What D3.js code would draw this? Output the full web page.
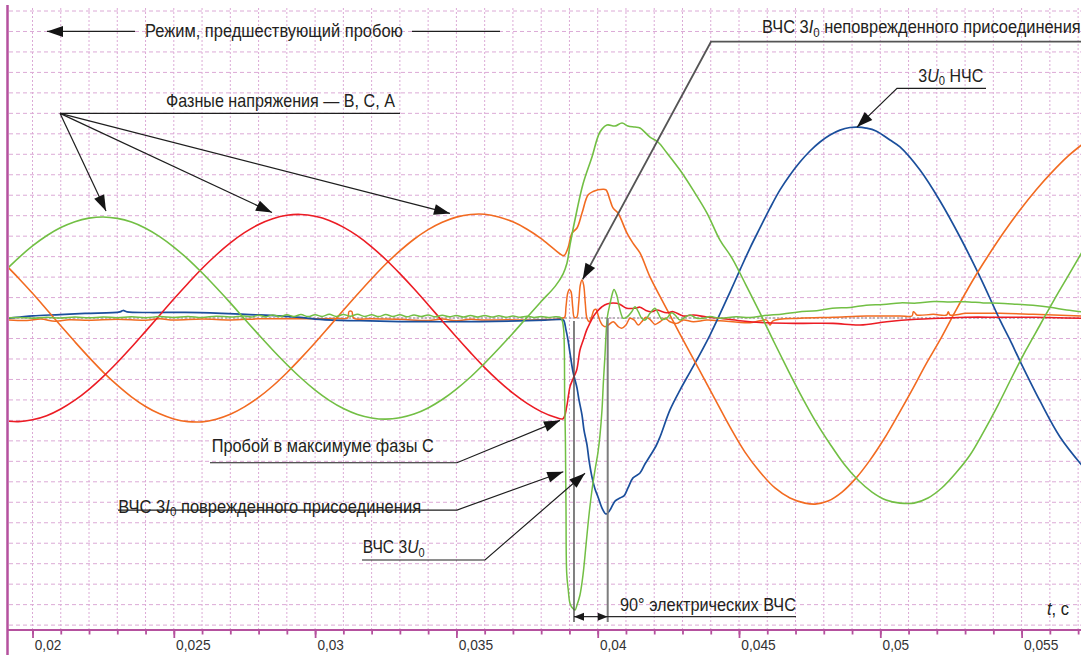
<!DOCTYPE html>
<html lang="ru">
<head>
<meta charset="utf-8">
<title>Осциллограмма пробоя фазы С</title>
<script src="https://cdn.jsdelivr.net/npm/d3@7/dist/d3.min.js"></script>
<style>
  html, body { margin: 0; padding: 0; background: #ffffff; }
  svg { display: block; }
  .lbl { font-family: "Liberation Sans", Arial, sans-serif; fill: #231f20; }
</style>
</head>
<body>
<svg id="chart" width="1081" height="655"></svg>
<script>
// ---- recorded traces: [time, s; level, grid divisions] ----

// phase B voltage
const phaseB = [
  [0.0190,2.27],[0.0195,2.93],[0.0200,3.52],[0.0205,4.02],[0.0210,4.42],[0.0215,4.71],[0.0220,4.88],[0.0225,4.94],
  [0.0230,4.87],[0.0235,4.69],[0.0240,4.39],[0.0245,3.98],[0.0250,3.47],[0.0255,2.88],[0.0260,2.21],[0.0265,1.49],
  [0.0270,0.74],[0.0275,-0.04],[0.0280,-0.81],[0.0285,-1.56],[0.0290,-2.27],[0.0295,-2.93],[0.0300,-3.52],[0.0305,-4.02],
  [0.0310,-4.42],[0.0315,-4.71],[0.0320,-4.88],[0.0325,-4.94],[0.0330,-4.87],[0.0335,-4.69],[0.0340,-4.39],[0.0345,-3.98],
  [0.0350,-3.47],[0.0355,-2.88],[0.0360,-2.21],[0.0365,-1.49],[0.0370,-0.74],[0.0375,0.04],[0.0380,0.81],[0.0385,1.56],
  [0.038772,2.15],[0.038914,2.69],[0.039020,3.57],[0.039268,5.28],[0.039480,6.55],[0.039798,7.87],[0.040081,9.09],
  [0.040329,9.43],[0.040612,9.38],[0.040860,9.53],[0.041072,9.38],[0.041319,9.33],[0.041496,9.28],[0.041850,8.84],
  [0.042133,8.60],[0.042452,8.06],[0.042912,7.23],[0.043372,6.26],[0.043867,5.13],[0.044327,3.81],[0.044752,2.93],
  [0.045247,1.61],[0.045743,0.25],[0.046238,-1.17],[0.046734,-2.54],[0.047229,-3.86],[0.047725,-5.08],[0.048220,-6.15],
  [0.048716,-7.13],[0.049211,-7.91],[0.049707,-8.50],[0.050202,-8.89],[0.050697,-9.04],[0.051193,-9.04],[0.051688,-8.79],
  [0.052184,-8.29],[0.052679,-7.56],[0.053175,-6.69],[0.053670,-5.52],[0.054166,-4.25],[0.054661,-2.88],[0.055157,-1.56],
  [0.055652,-0.34],[0.056147,0.88],[0.056643,2.05],[0.057138,3.22]
];

// phase C voltage (breakdown phase)
const phaseC = [
  [0.0190,-5.02],[0.0195,-5.06],[0.0200,-4.97],[0.0205,-4.77],[0.0210,-4.44],[0.0215,-4.01],[0.0220,-3.48],[0.0225,-2.86],
  [0.0230,-2.17],[0.0235,-1.43],[0.0240,-0.65],[0.0245,0.14],[0.0250,0.93],[0.0255,1.69],[0.0260,2.42],[0.0265,3.08],
  [0.0270,3.67],[0.0275,4.17],[0.0280,4.57],[0.0285,4.85],[0.0290,5.02],[0.0295,5.06],[0.0300,4.97],[0.0305,4.77],
  [0.0310,4.44],[0.0315,4.01],[0.0320,3.48],[0.0325,2.86],[0.0330,2.17],[0.0335,1.43],[0.0340,0.65],[0.0345,-0.14],
  [0.0350,-0.93],[0.0355,-1.69],[0.0360,-2.42],[0.0365,-3.08],[0.0370,-3.67],[0.0375,-4.17],[0.0380,-4.57],[0.0385,-4.85],
  [0.038772,-4.92],[0.038903,-4.33],[0.038959,-3.84],[0.039020,-3.35],[0.039136,-2.94],[0.039257,-2.54],[0.039373,-1.56],
  [0.039490,-1.07],[0.039611,-0.58],[0.039728,-0.24],[0.039844,0.07],[0.039965,0.30],[0.040142,0.54],[0.040329,0.69],
  [0.040672,0.72],[0.040824,0.64],[0.041026,0.48],[0.041319,0.48],[0.041496,0.53],[0.041708,0.37],[0.041911,0.31],
  [0.042087,0.39],[0.042441,0.26],[0.042675,0.31],[0.043029,0.10],[0.043383,0.15],[0.043857,0.05],[0.044328,-0.01],
  [0.045035,-0.13],[0.045980,-0.23],[0.047158,-0.26],[0.048326,-0.26],[0.049281,-0.34],[0.050226,-0.18],[0.051288,-0.06],
  [0.052112,-0.01],[0.053057,0.04],[0.054235,0.04],[0.055403,0.04],[0.057102,-0.01]
];

// phase A voltage
const phaseA = [
  [0.0190,2.67],[0.0195,1.96],[0.0200,1.21],[0.0205,0.42],[0.0210,-0.38],[0.0215,-1.16],[0.0220,-1.92],[0.0225,-2.64],
  [0.0230,-3.28],[0.0235,-3.85],[0.0240,-4.32],[0.0245,-4.68],[0.0250,-4.93],[0.0255,-5.06],[0.0260,-5.07],[0.0265,-4.94],
  [0.0270,-4.70],[0.0275,-4.34],[0.0280,-3.88],[0.0285,-3.32],[0.0290,-2.67],[0.0295,-1.96],[0.0300,-1.21],[0.0305,-0.42],
  [0.0310,0.38],[0.0315,1.16],[0.0320,1.92],[0.0325,2.64],[0.0330,3.28],[0.0335,3.85],[0.0340,4.32],[0.0345,4.68],
  [0.0350,4.93],[0.0355,5.06],[0.0360,5.07],[0.0365,4.94],[0.0370,4.70],[0.0375,4.34],[0.0380,3.88],[0.0385,3.32],
  [0.038800,3.05],[0.038949,3.42],[0.039091,4.15],[0.039268,4.40],[0.039445,5.13],[0.039657,6.01],[0.039834,6.18],
  [0.040187,6.29],[0.040294,6.26],[0.040435,5.77],[0.040541,5.38],[0.040718,5.13],[0.041036,4.15],[0.041248,3.66],
  [0.041496,3.18],[0.041850,2.01],[0.042274,0.88],[0.042911,-0.78],[0.043619,-2.59],[0.044150,-3.96],[0.044681,-5.32],
  [0.045211,-6.55],[0.045742,-7.52],[0.046273,-8.30],[0.046804,-8.79],[0.047335,-9.04],[0.047689,-9.09],[0.048149,-8.94],
  [0.048645,-8.50],[0.049140,-7.82],[0.049636,-6.94],[0.050131,-5.91],[0.050626,-4.74],[0.051122,-3.52],[0.051617,-2.25],
  [0.052113,-1.07],[0.052679,0.39],[0.053280,1.86],[0.053811,3.03],[0.054377,4.20],[0.054944,5.28],[0.055510,6.26],
  [0.056076,7.13],[0.056642,7.91],[0.057208,8.55]
];

// zero-sequence voltage 3U0
const zeroSeqU = [
  [0.019027,-0.02],[0.019558,0.05],[0.020018,0.11],[0.020973,0.17],[0.021858,0.23],[0.023096,0.30],[0.023202,0.37],
  [0.023344,0.30],[0.024158,0.27],[0.025396,0.28],[0.026706,0.23],[0.027697,0.17],[0.028687,0.11],[0.029466,0.03],
  [0.029996,-0.05],[0.030881,-0.11],[0.031943,-0.14],[0.033004,-0.17],[0.034561,-0.18],[0.035835,-0.17],[0.037180,-0.14],
  [0.038135,-0.10],[0.038701,-0.07],[0.038790,-0.10],[0.038878,-0.58],[0.038949,-1.07],[0.039020,-1.71],[0.039126,-2.63],
  [0.039268,-3.42],[0.039338,-4.00],[0.039445,-4.74],[0.039515,-5.47],[0.039621,-6.20],[0.039692,-6.94],[0.039798,-7.77],
  [0.039904,-8.35],[0.040011,-8.74],[0.040152,-9.28],[0.040294,-9.57],[0.040435,-9.38],[0.040612,-8.94],[0.040789,-8.79],
  [0.040930,-8.69],[0.041072,-8.30],[0.041249,-7.81],[0.041496,-7.57],[0.041673,-7.13],[0.041850,-6.74],[0.042063,-6.25],
  [0.042204,-5.81],[0.042558,-4.49],[0.042912,-3.52],[0.043266,-2.64],[0.043620,-1.76],[0.043974,-0.83],[0.044328,0.20],
  [0.044682,1.27],[0.045035,2.35],[0.045389,3.42],[0.045743,4.40],[0.046097,5.37],[0.046451,6.26],[0.046805,6.99],
  [0.047158,7.62],[0.047512,8.16],[0.047866,8.60],[0.048220,8.94],[0.048574,9.18],[0.048928,9.31],[0.049211,9.33],
  [0.049494,9.28],[0.049848,9.14],[0.050343,8.70],[0.050697,8.36],[0.051405,7.23],[0.052113,5.72],[0.052820,3.96],
  [0.053528,2.01],[0.054236,-0.10],[0.054590,-1.07],[0.054944,-2.10],[0.055651,-4.05],[0.056359,-5.81],[0.057138,-7.20]
];

// HF 3I0 of the faulted feeder
const hfCurrentFaulted = [
  [0.0190,0.00],[0.0195,0.03],[0.0200,-0.01],[0.0205,0.04],[0.0210,0.00],[0.0215,0.05],[0.0220,0.01],[0.0225,0.05],
  [0.0230,0.02],[0.0235,0.06],[0.0240,0.02],[0.0245,0.07],[0.0250,0.03],[0.0255,0.08],[0.0260,0.03],[0.0265,0.09],
  [0.0270,0.05],[0.0275,0.10],[0.02775,0.05],[0.0280,0.14],[0.02825,0.06],[0.0285,0.15],[0.02875,0.07],[0.0290,0.16],
  [0.02925,0.08],[0.0295,0.17],[0.02975,0.07],[0.0300,0.16],[0.03025,0.08],[0.0305,0.18],[0.03075,0.08],[0.0310,0.17],
  [0.03125,0.09],[0.0315,0.18],[0.03175,0.08],[0.0320,0.16],[0.03225,0.07],[0.0325,0.17],[0.03275,0.08],[0.0330,0.16],
  [0.03325,0.06],[0.0335,0.15],[0.03375,0.07],[0.0340,0.15],[0.03425,0.06],[0.0345,0.14],[0.03475,0.06],[0.0350,0.13],
  [0.03525,0.05],[0.0355,0.13],[0.03575,0.05],[0.0360,0.12],[0.03625,0.05],[0.0365,0.11],[0.03675,0.04],[0.0370,0.10],
  [0.03725,0.04],[0.0375,0.09],[0.03775,0.03],[0.0380,0.08],[0.03825,0.03],[0.0385,0.06],[0.0387,0.02],
  [0.038741,-0.10],[0.038797,-0.58],[0.038832,-4.01],[0.038857,-5.96],[0.038878,-9.22],[0.038903,-12.47],[0.038959,-13.29],
  [0.039020,-13.94],[0.039115,-14.18],[0.039197,-14.26],[0.039268,-14.02],[0.039373,-13.53],[0.039480,-12.55],
  [0.039586,-11.09],[0.039692,-9.62],[0.039798,-8.40],[0.039904,-7.43],[0.040011,-6.55],[0.040081,-5.72],[0.040152,-4.49],
  [0.040205,-3.03],[0.040258,-1.81],[0.040294,-0.83],[0.040347,0.10],[0.040435,0.69],[0.040506,1.13],[0.040577,1.40],
  [0.040672,1.13],[0.040789,0.39],[0.040905,-0.01],[0.041026,0.04],[0.041203,0.31],[0.041319,0.55],[0.041436,0.31],
  [0.041557,-0.01],[0.041673,-0.10],[0.041850,0.23],[0.042027,0.48],[0.042144,0.23],[0.042264,-0.06],[0.042441,-0.01],
  [0.042618,0.26],[0.042735,0.15],[0.042912,-0.10],[0.043089,0.04],[0.043266,0.15],[0.043503,-0.01],[0.043736,-0.01],
  [0.043974,0.07],[0.044328,-0.01],[0.044900,0.06],[0.045389,0.03],[0.045900,0.12],[0.046557,0.20],[0.047100,0.30],
  [0.047749,0.36],[0.048300,0.48],[0.048938,0.52],[0.049500,0.63],[0.050106,0.66],[0.050700,0.74],[0.051288,0.73],
  [0.051900,0.81],[0.052466,0.79],[0.053000,0.80],[0.053644,0.74],[0.054200,0.72],[0.054826,0.67],[0.055400,0.62],
  [0.056004,0.53],[0.056595,0.39],[0.057102,0.31]
];

// HF 3I0 of a healthy feeder
const hfCurrentHealthy = [
  [0.0190,-0.08],[0.0198,-0.12],[0.0203,-0.05],[0.0208,-0.16],[0.0213,-0.08],[0.0220,-0.11],[0.0230,-0.06],[0.0240,-0.11],
  [0.0245,-0.04],[0.0250,-0.10],[0.0260,-0.05],[0.0270,-0.09],[0.0280,-0.04],[0.0290,-0.03],[0.0300,-0.03],[0.0308,-0.02],
  [0.03115,0.00],[0.03120,0.32],[0.03130,0.32],[0.03136,0.00],[0.0320,-0.04],[0.0330,-0.06],[0.0340,-0.12],[0.0345,-0.05],
  [0.0350,-0.13],[0.0355,-0.06],[0.0360,-0.10],[0.0368,-0.08],[0.0375,-0.10],[0.0380,-0.08],[0.0386,-0.05],
  [0.038741,-0.01],[0.038832,0.04],[0.038878,0.55],[0.038938,1.21],[0.038995,1.40],[0.039055,1.29],[0.039115,0.55],
  [0.039172,0.04],[0.039257,0.04],[0.039327,0.72],[0.039384,1.61],[0.039444,1.86],[0.039504,1.61],[0.039561,0.72],
  [0.039621,-0.01],[0.039703,-0.18],[0.039788,0.07],[0.039869,0.39],[0.039940,0.43],[0.040011,0.15],[0.040081,-0.13],
  [0.040163,-0.34],[0.040258,-0.42],[0.040375,-0.34],[0.040552,-0.18],[0.040729,-0.42],[0.040849,-0.50],[0.041001,-0.34],
  [0.041143,-0.01],[0.041295,-0.10],[0.041436,-0.34],[0.041557,-0.18],[0.041709,0.04],[0.041875,-0.10],[0.042027,-0.31],
  [0.042204,-0.18],[0.042381,-0.01],[0.042558,-0.18],[0.042795,-0.26],[0.043029,-0.10],[0.043383,-0.18],[0.043857,-0.10],
  [0.044328,-0.13],[0.045389,-0.23],[0.045980,-0.10],[0.046097,-0.34],[0.046203,-0.14],[0.047158,-0.01],[0.048337,0.04],
  [0.049519,0.10],[0.050697,0.10],[0.051122,0.10],[0.051168,0.31],[0.051228,0.25],[0.051288,0.15],[0.051875,0.18],
  [0.052349,0.15],[0.052406,0.31],[0.052466,0.15],[0.053057,0.23],[0.054235,0.23],[0.055414,0.18],[0.057102,0.10]
];

// time axis ticks
const tickMajor = [0.02, 0.025, 0.03, 0.035, 0.04, 0.045, 0.05, 0.055];
const tickMinor = d3.range(19, 58).map(d => d / 1000);
// horizontal grid levels
const gridLevels = d3.range(-15, 16);

// ---- scales ----
const x = d3.scaleLinear().domain([0.02, 0.055]).range([32.5, 1021.6]);
const y = d3.scaleLinear().domain([-15, 15]).range([625.1, 11]);

const svg = d3.select("#chart");
const W = 1081, H = 655, axisY = 630, left = 7.5;
const magenta = "#b5519e";
const gridColor = "#dcaad6";

svg.append("rect").attr("width", W).attr("height", H).attr("fill", "#ffffff");

svg.append("defs").append("clipPath").attr("id", "plotClip")
  .append("rect").attr("x", 9).attr("y", 0).attr("width", W - 9).attr("height", axisY - 1);

// ---- grid ----
const grid = svg.append("g");
grid.selectAll("line.h").data(gridLevels).join("line")
  .attr("x1", 9).attr("x2", W)
  .attr("y1", d => y(d)).attr("y2", d => y(d))
  .attr("stroke", gridColor).attr("stroke-width", 1).attr("stroke-dasharray", "4,3");
grid.selectAll("line.v").data(tickMinor.filter(t => x(t) > 9)).join("line")
  .attr("x1", d => x(d)).attr("x2", d => x(d))
  .attr("y1", 8).attr("y2", axisY)
  .attr("stroke", gridColor).attr("stroke-width", 1).attr("stroke-dasharray", "2,2");

// zero reference
svg.append("line").attr("x1", 9).attr("x2", W).attr("y1", y(0)).attr("y2", y(0))
  .attr("stroke", "#a8a8a8").attr("stroke-width", 1.4).attr("stroke-dasharray", "2,2");

// ---- traces ----
const trace = d3.line().x(d => x(d[0])).y(d => y(d[1])).curve(d3.curveCatmullRom.alpha(0.5));
const traces = svg.append("g").attr("clip-path", "url(#plotClip)").attr("fill", "none")
  .attr("stroke-linejoin", "round").attr("stroke-linecap", "round");
const series = [
  { data: hfCurrentHealthy, color: "#f26b21", w: 1.5 },
  { data: zeroSeqU, color: "#1b4f9c", w: 1.7 },
  { data: phaseA, color: "#f26b21", w: 1.6 },
  { data: phaseC, color: "#ec1c24", w: 1.6 },
  { data: hfCurrentFaulted, color: "#72bf44", w: 1.5 },
  { data: phaseB, color: "#72bf44", w: 1.6 }
];
series.forEach(s => {
  traces.append("path").attr("d", trace(s.data)).attr("stroke", s.color).attr("stroke-width", s.w);
});

// ---- axes ----
svg.append("line").attr("x1", left).attr("x2", left).attr("y1", 5).attr("y2", H)
  .attr("stroke", magenta).attr("stroke-width", 2.5);
svg.append("line").attr("x1", left).attr("x2", W).attr("y1", axisY).attr("y2", axisY)
  .attr("stroke", magenta).attr("stroke-width", 2);

const locale = d3.formatLocale({ decimal: ",", thousands: " ", grouping: [3], currency: ["", ""] });
const fmt = locale.format("~g");

// squeeze or stretch a text horizontally so that it spans the given width from its start point
function fitWidth(sel, x0, y0, width) {
  sel.attr("x", 0).attr("y", 0);
  const natural = sel.node().getComputedTextLength();
  const sx = natural > 0 ? width / natural : 1;
  sel.attr("transform", `translate(${x0},${y0}) scale(${sx.toFixed(4)},1)`);
}

const minorAxis = svg.append("g").attr("transform", `translate(0,${axisY})`)
  .call(d3.axisBottom(x).tickValues(tickMinor.filter(t => x(t) > 9)).tickSize(4.5).tickFormat(""));
minorAxis.select(".domain").remove();
minorAxis.selectAll(".tick line").attr("stroke", magenta).attr("stroke-width", 1.8);

const majorAxis = svg.append("g").attr("transform", `translate(0,${axisY})`)
  .call(d3.axisBottom(x).tickValues(tickMajor).tickSize(8).tickFormat(fmt));
majorAxis.select(".domain").remove();
majorAxis.selectAll(".tick line").attr("stroke", magenta).attr("stroke-width", 1.8);
majorAxis.selectAll(".tick text")
  .attr("class", "lbl").attr("text-anchor", "start").attr("dy", 0)
  .style("font-size", "15px").style("fill", "#333333")
  .each(function (d) { fitWidth(d3.select(this), 1.8, 20, String(fmt(d)).length > 4 ? 34.5 : 26.5); });

// ---- callouts ----
const calloutText = [
  { parts: [["Режим, предшествующий пробою"]], t: 0.023981, v: 13.73, width: 258 },
  { parts: [["Фазные напряжения — В, С, А"]], t: 0.024724, v: 10.33, width: 229 },
  { parts: [["ВЧС 3"], ["I", "i"], ["0", "s"], [" неповрежденного присоединения"]], t: 0.045814, v: 13.91, width: 319 },
  { parts: [["3"], ["U", "i"], ["0", "s"], [" НЧС"]], t: 0.051345, v: 11.55, width: 65 },
  { parts: [["Пробой в максимуме фазы С"]], t: 0.026341, v: -6.53, width: 222 },
  { parts: [["ВЧС 3"], ["I", "i"], ["0", "s"], [" поврежденного присоединения"]], t: 0.023036, v: -9.51, width: 303 },
  { parts: [["ВЧС 3"], ["U", "i"], ["0", "s"]], t: 0.031684, v: -11.49, width: 62 },
  { parts: [["90° электрических ВЧС"]], t: 0.040789, v: -14.31, width: 176 },
  { parts: [["t", "i"], [", с"]], t: 0.055899, v: -14.51, width: 22 }
];

// leader lines; the last point of an arrowed line is the arrow tip
const calloutLines = [
  { pts: [[0.023627, 14.00], [0.020513, 14.00]], arrow: true },
  { pts: [[0.033429, 14.00], [0.036543, 14.00]], arrow: false },
  { pts: [[0.020973, 10.00], [0.033004, 10.00]], arrow: false },
  { pts: [[0.020973, 10.00], [0.022601, 5.23]], arrow: true },
  { pts: [[0.020973, 10.00], [0.028475, 5.16]], arrow: true },
  { pts: [[0.020973, 10.00], [0.034773, 5.11]], arrow: true },
  { pts: [[0.057300, 13.50], [0.044009, 13.50], [0.039469, 1.89]], arrow: true, under: true },
  { pts: [[0.053741, 11.22], [0.050591, 11.22], [0.049176, 9.33]], arrow: true },
  { pts: [[0.026281, -7.07], [0.035021, -7.07], [0.038666, -5.00]], arrow: true },
  { pts: [[0.023025, -9.38], [0.035021, -9.38], [0.038783, -7.51]], arrow: true },
  { pts: [[0.031660, -11.82], [0.036012, -11.82], [0.039551, -7.58]], arrow: true }
];

// quarter-period markers of the HF transient
const markerTimes = [0.039161, 0.040354];
const markerTop = [-0.15, 0.0];
const markerBottom = -14.85;
const spanLevel = -14.59;
const spanEnd = 0.047017;

const notes = svg.append("g");
const poly = d3.line().x(d => x(d[0])).y(d => y(d[1]));

function headPoints(a, b, len, half) {
  const x0 = x(a[0]), y0 = y(a[1]), x1 = x(b[0]), y1 = y(b[1]);
  const dx = x1 - x0, dy = y1 - y0, L = Math.hypot(dx, dy), ux = dx / L, uy = dy / L;
  const bx = x1 - ux * len, by = y1 - uy * len;
  return [[x1, y1], [bx - uy * half, by + ux * half], [bx + uy * half, by - ux * half]];
}

// marker verticals
notes.selectAll("line.mk").data(markerTimes).join("line")
  .attr("x1", d => x(d)).attr("x2", d => x(d))
  .attr("y1", (d, i) => y(markerTop[i])).attr("y2", y(markerBottom))
  .attr("stroke", (d, i) => i === 0 ? "#4a4a4a" : "#7d7d7d")
  .attr("stroke-width", (d, i) => i === 0 ? 1.4 : 2);

// span between markers and its underline
notes.append("line")
  .attr("x1", x(markerTimes[0])).attr("x2", x(spanEnd))
  .attr("y1", y(spanLevel)).attr("y2", y(spanLevel))
  .attr("stroke", "#2a2a2a").attr("stroke-width", 1.2);
[[markerTimes[1], markerTimes[0]], [markerTimes[0], markerTimes[1]]].forEach(([from, to]) => {
  const hp = headPoints([from, spanLevel], [to, spanLevel], 10, 4);
  notes.append("polygon").attr("points", hp.map(p => p.join(",")).join(" ")).attr("fill", "#1a1a1a");
});

calloutLines.forEach(l => {
  notes.append("path").attr("d", poly(l.pts)).attr("fill", "none")
    .attr("stroke", l.under ? "#555555" : "#1e1e1e")
    .attr("stroke-width", l.under ? 1.8 : 1.2);
  if (l.arrow) {
    const n = l.pts.length;
    const hp = headPoints(l.pts[n - 2], l.pts[n - 1], 16, 5.5);
    notes.append("polygon").attr("points", hp.map(p => p.join(",")).join(" ")).attr("fill", "#141414");
  }
});

calloutText.forEach(c => {
  const txt = notes.append("text").attr("class", "lbl").style("font-size", "18.5px");
  let lowered = false;
  c.parts.forEach(([s, kind]) => {
    const ts = txt.append("tspan").text(s);
    if (kind === "i") ts.style("font-style", "italic");
    if (kind === "s") { ts.style("font-size", "13px").attr("dy", 3.5); lowered = true; }
    else if (lowered) { ts.attr("dy", -3.5); lowered = false; }
  });
  fitWidth(txt, x(c.t), y(c.v), c.width);
});
</script>
</body>
</html>
